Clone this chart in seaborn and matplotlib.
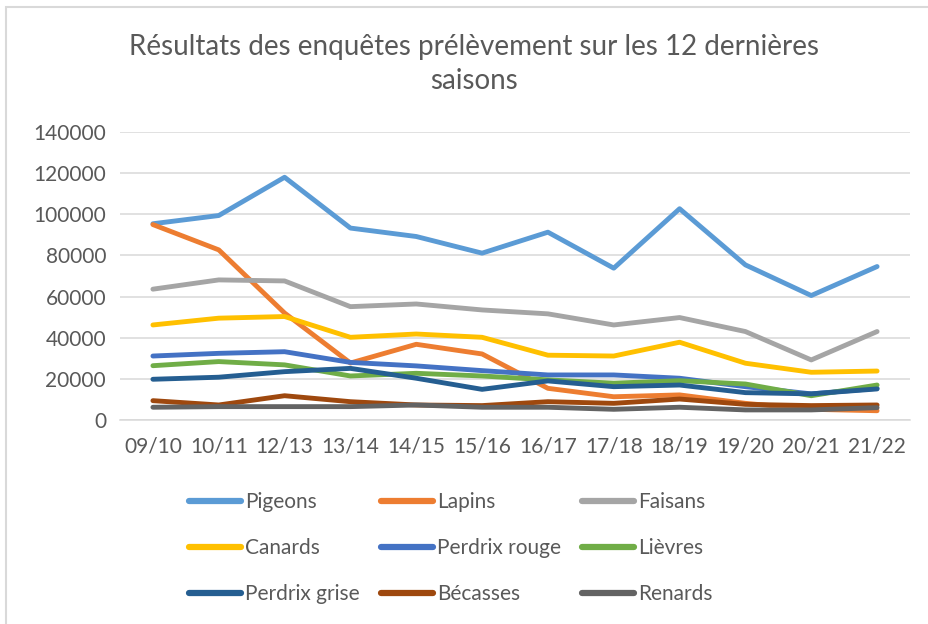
import pandas as pd
import matplotlib
matplotlib.use('Agg')
import matplotlib.pyplot as plt
from matplotlib.patches import Rectangle
import seaborn as sns

# Seasons (x axis)
saisons = ['09/10', '10/11', '12/13', '13/14', '14/15', '15/16',
           '16/17', '17/18', '18/19', '19/20', '20/21', '21/22']

# Values
pigeons = [95400, 99400, 118000, 93300, 89200, 81100, 91300, 73800, 102700, 75400, 60500, 74600]
lapins = [95000, 82700, 52000, 27700, 36800, 32100, 15400, 11300, 12200, 8100, 5200, 4500]
faisans = [63600, 68100, 67600, 55100, 56400, 53500, 51600, 46200, 49800, 43000, 29200, 43000]
canards = [46200, 49500, 50300, 40200, 41800, 40200, 31500, 31100, 37800, 27600, 23200, 23800]
perdrix_rouge = [31100, 32400, 33200, 28000, 26300, 24000, 21900, 21900, 20300, 16200, 12700, 15400]
lievres = [26400, 28400, 26800, 21400, 22700, 21400, 19500, 17900, 19100, 17500, 11800, 17000]
perdrix_grise = [19800, 20800, 23500, 25100, 20300, 14900, 19000, 16200, 17000, 13300, 12700, 15100]
becasses = [9400, 7300, 11800, 8900, 7300, 7000, 8900, 8100, 10200, 7600, 7000, 7300]
renards = [6200, 6500, 6500, 6500, 7300, 6200, 6200, 5200, 6200, 4900, 4900, 6000]

especes = ['Pigeons', 'Lapins', 'Faisans', 'Canards', 'Perdrix rouge',
           'Lièvres', 'Perdrix grise', 'Bécasses', 'Renards']
couleurs = ['#5B9BD5', '#ED7D31', '#A5A5A5', '#FFC000', '#4472C4',
            '#70AD47', '#255E91', '#9E480E', '#636363']

series = [pigeons, lapins, faisans, canards, perdrix_rouge,
          lievres, perdrix_grise, becasses, renards]

# long format for seaborn
rows = []
for nom, vals in zip(especes, series):
    for i, v in enumerate(vals):
        rows.append({'saison': i, 'espece': nom, 'valeur': v})
df = pd.DataFrame(rows)

sns.set_theme(style='white')
plt.rcParams['font.family'] = ['Lato', 'DejaVu Sans']
gris_texte = '#595959'

fig = plt.figure(figsize=(9.29, 6.24), dpi=100)
ax = fig.add_axes([120 / 929, 1 - 420 / 624, 790 / 929, 288 / 624])

sns.lineplot(data=df, x='saison', y='valeur', hue='espece', hue_order=especes,
             palette=couleurs, linewidth=3.5, ax=ax, legend=True,
             solid_capstyle='round', solid_joinstyle='round')

ax.set_xlim(-0.5, 11.5)
ax.set_ylim(0, 140000)
ax.set_yticks(range(0, 140001, 20000))
ax.set_xticks(range(len(saisons)))
ax.set_xticklabels(saisons)
ax.set_xlabel('')
ax.set_ylabel('')
ax.yaxis.grid(True, color='#D9D9D9', linewidth=1.1)
ax.set_axisbelow(True)
for s in ['top', 'right', 'left']:
    ax.spines[s].set_visible(False)
ax.spines['bottom'].set_color('#D9D9D9')
ax.spines['bottom'].set_linewidth(1.1)
ax.tick_params(axis='both', length=0, labelsize=15, colors=gris_texte)
ax.tick_params(axis='x', pad=12)
ax.tick_params(axis='y', pad=10)

fig.text(474 / 929, 1 - 64 / 624,
         'Résultats des enquêtes prélèvement sur les 12 dernières\nsaisons',
         ha='center', va='center', fontsize=20, color=gris_texte, linespacing=1.4)

# legend reads row by row in the reference, matplotlib fills by column
handles, labels = ax.get_legend_handles_labels()
ax.legend_.remove()
ordre = [0, 3, 6, 1, 4, 7, 2, 5, 8]
handles = [handles[i] for i in ordre]
labels = [labels[i] for i in ordre]
for h in handles:
    h.set_linewidth(4.5)
    h.set_solid_capstyle('round')
leg = fig.legend(handles, labels, ncol=3, loc='center', bbox_to_anchor=(451 / 929, 1 - 548 / 624),
                 frameon=False, fontsize=15, handlelength=2.5, handletextpad=0.2,
                 columnspacing=1.0, labelspacing=1.25)
for t in leg.get_texts():
    t.set_color(gris_texte)

# chart area border
fig.patches.append(Rectangle((6 / 929, -0.1), 1.2, 1 - 7 / 624 + 0.1, transform=fig.transFigure,
                             fill=False, edgecolor='#D9D9D9', linewidth=1.5))

fig.savefig('out.png', dpi=100)
